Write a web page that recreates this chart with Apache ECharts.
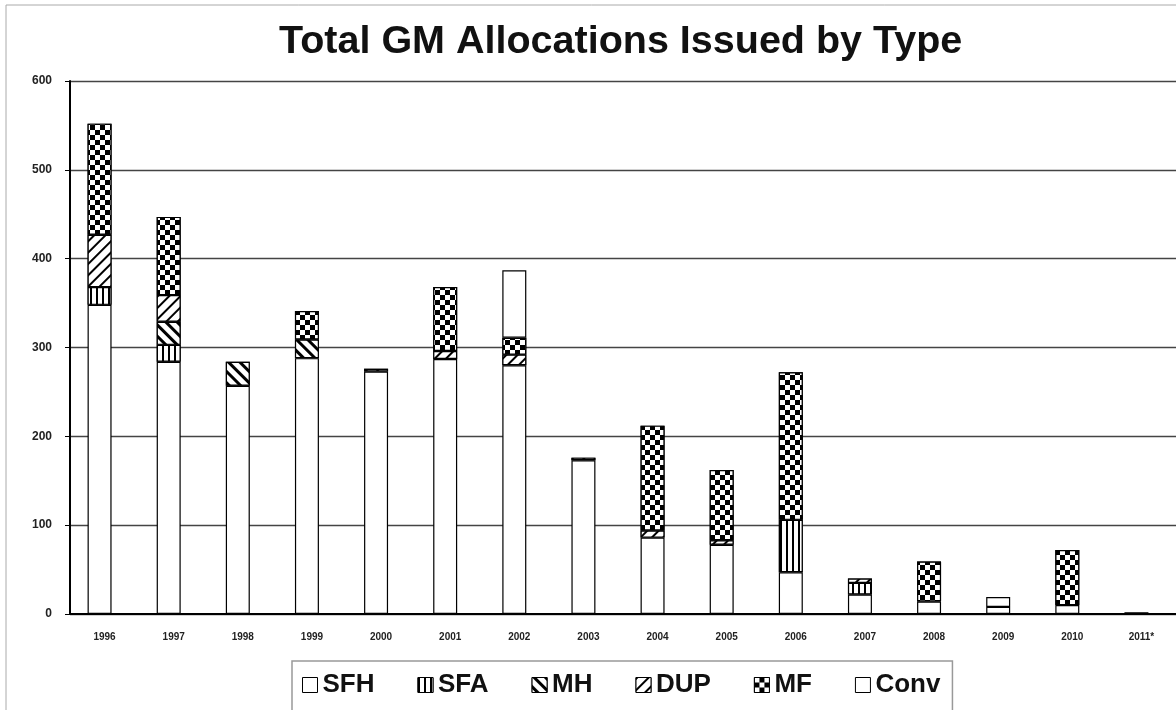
<!DOCTYPE html>
<html><head><meta charset="utf-8">
<script src="https://cdn.jsdelivr.net/npm/echarts@6/dist/echarts.min.js"></script>
<style>html,body{margin:0;padding:0;background:#fff}#c{width:1176px;height:710px}</style>
</head><body><div id="c"></div>
<script>
var categories = ['1996','1997','1998','1999','2000','2001','2002','2003','2004','2005','2006','2007','2008','2009','2010','2011*'];
var yTicks = [0,100,200,300,400,500,600];
var sfh  = [348,284,257,288,273,287,280,173,86,78,47,22,14,8,10,2];
var sfa  = [20,19,0,0,0,0,0,0,0,0,59,13,0,0,0,0];
var mh   = [0,26,27,21,0,0,0,0,0,0,0,0,0,0,0,0];
var dup  = [59,30,0,0,3,9,12,3,8,5,0,5,0,0,0,0];
var mf   = [125,88,0,32,0,72,19,0,118,79,166,0,45,0,62,0];
var conv = [0,0,0,0,0,0,76,0,0,0,0,0,0,11,0,0];

var decals = {
  SFH: null,
  SFA: {symbol:'rect', color:'#000', backgroundColor:'#fff', dashArrayX:[2,4], dashArrayY:[1,0], rotation:0, symbolSize:1},
  MH:  {symbol:'rect', color:'#000', backgroundColor:'#fff', dashArrayX:[3,5], dashArrayY:[1,0], rotation:-Math.PI/4, symbolSize:1},
  DUP: {symbol:'rect', color:'#000', backgroundColor:'#fff', dashArrayX:[2,6], dashArrayY:[1,0], rotation:Math.PI/4, symbolSize:1},
  MF:  {symbol:'rect', color:'#000', backgroundColor:'#fff', dashArrayX:[[5,5],[0,5,5,0]], dashArrayY:[5,0], rotation:0, symbolSize:1},
  Conv: null
};
var FONT = 'Liberation Sans, Arial';
function mk(name, arr){
  var st = {color:'#fff', borderColor:'#000', borderWidth:1.2};
  if (decals[name]) st.decal = decals[name];
  return {name:name, type:'bar', stack:'t', barWidth:24, barGap:'0%', data:arr.map(function(v){return v||null;}), itemStyle:st, emphasis:{disabled:true}};
}
var series = [mk('SFH',sfh), mk('SFA',sfa), mk('MH',mh), mk('DUP',dup), mk('MF',mf), mk('Conv',conv)];
// spacer stack (no data) that nudges the drawn columns left of the label centre, as in the original
series.push({name:'_sp', type:'bar', stack:'sp', barWidth:10, barGap:'0%', data:categories.map(function(){return null;}), silent:true});
var chart = echarts.init(document.getElementById('c'), null, {renderer:'canvas'});
chart.setOption({
  animation:false,
  backgroundColor:'#fff',
  title:{text:'Total GM Allocations Issued by Type', left:274, top:17, textStyle:{fontFamily:FONT, fontSize:39.5, fontWeight:'bold', color:'#111'}},
  graphic:[{type:'rect', shape:{x:6,y:5,width:1180,height:720}, style:{fill:null, stroke:'#aaa', lineWidth:1}, silent:true}],
  legend:{bottom:-8, left:292, itemWidth:15, itemHeight:15, itemGap:43, padding:[11,12,20,10],
    borderColor:'#999', borderWidth:1.5, textStyle:{fontFamily:FONT, fontSize:26, fontWeight:'bold', color:'#111'},
    data:['SFH','SFA','MH','DUP','MF','Conv'].map(function(n){return {name:n, icon:'rect', itemStyle:{borderColor:'#000', borderWidth:1}};})},
  grid:{left:70, top:81, bottom:96, right:-9, containLabel:false},
  xAxis:{type:'category', data:categories, axisLine:{lineStyle:{color:'#000', width:2}}, axisTick:{show:false},
    axisLabel:{fontFamily:FONT, fontSize:10, fontWeight:'bold', color:'#222', margin:18}},
  yAxis:{type:'value', min:0, max:600, interval:100, axisLine:{show:true, lineStyle:{color:'#000', width:2}},
    axisTick:{show:true, length:5, lineStyle:{color:'#000'}},
    splitLine:{lineStyle:{color:'#444', width:1.3}},
    axisLabel:{fontFamily:FONT, fontSize:12, fontWeight:'bold', color:'#222', margin:18,
      formatter:function(v){return yTicks.indexOf(v)>=0 ? String(v) : '';}}},
  series:series
});
</script></body></html>
